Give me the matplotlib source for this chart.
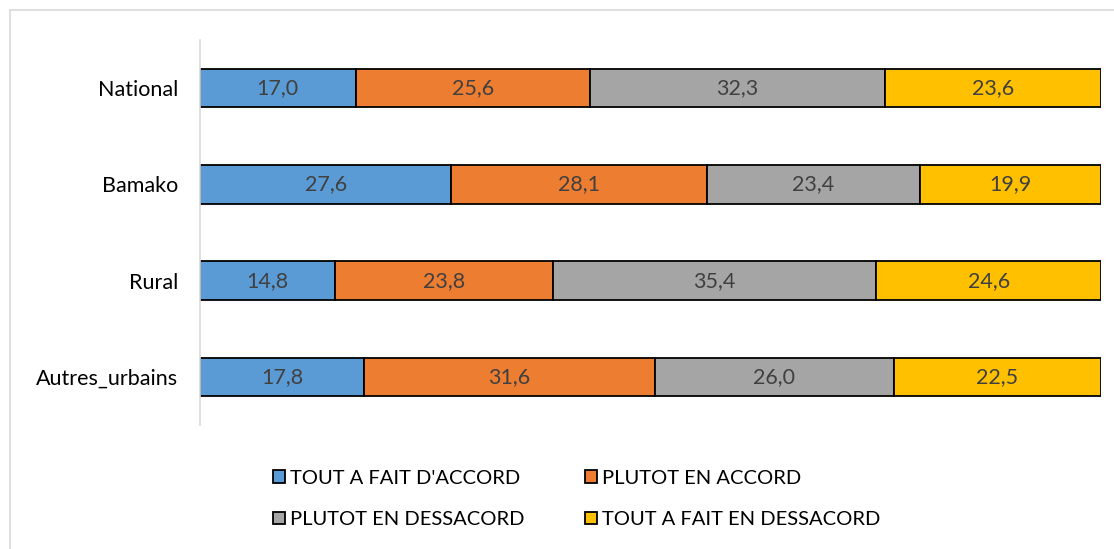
import numpy as np
import matplotlib.pyplot as plt
from matplotlib.patches import Rectangle

# ---- donnees ----
regions = ["National", "Bamako", "Rural", "Autres_urbains"]
series = ["TOUT A FAIT D'ACCORD", "PLUTOT EN ACCORD",
          "PLUTOT EN DESSACORD", "TOUT A FAIT EN DESSACORD"]
tout_accord = [17.0, 27.6, 14.8, 17.8]
plutot_accord = [25.6, 28.1, 23.8, 31.6]
plutot_desaccord = [32.3, 23.4, 35.4, 26.0]
tout_desaccord = [23.6, 19.9, 24.6, 22.5]
colors = ["#5B9BD5", "#ED7D31", "#A5A5A5", "#FFC000"]

plt.rcParams['font.family'] = ['Lato', 'DejaVu Sans']

vals = np.array([tout_accord, plutot_accord, plutot_desaccord, tout_desaccord])
pct = vals / vals.sum(axis=0) * 100   # barres empilees a 100%

W, H = 1114, 549
fig = plt.figure(figsize=(W/100, H/100), dpi=100)
# cadre gris du graphique
fig.patches.append(Rectangle((10/W, -0.1), 1.2, 1 - 10/H + 0.1, transform=fig.transFigure,
                             fill=False, edgecolor="#D9D9D9", linewidth=1.2))

ax = fig.add_axes([200/W, 1 - 425/H, 901/W, 385/H])
y = np.arange(len(regions))
left = np.zeros(len(regions))
handles = []
for i in range(4):
    bars = ax.barh(y, pct[i], left=left, height=0.4, color=colors[i],
                   edgecolor="black", linewidth=1.3, label=series[i])
    handles.append(bars)
    for j in range(len(regions)):
        ax.text(left[j] + pct[i][j]/2, y[j], f"{vals[i][j]:.1f}".replace(".", ","),
                ha="center", va="center", fontsize=15.5, color="#404040")
    left += pct[i]

ax.set_xlim(0, 100)
ax.set_ylim(3.5, -0.5)
ax.set_yticks(y)
ax.set_yticklabels(regions, fontsize=15.5)
ax.tick_params(axis="y", length=0, pad=16)
ax.set_xticks([])
for s in ["top", "right", "bottom"]:
    ax.spines[s].set_visible(False)
ax.spines["left"].set_color("#D9D9D9")
ax.spines["left"].set_linewidth(1.2)

# ordre ligne par ligne comme dans l'original
order = [0, 2, 1, 3]
leg = fig.legend([handles[k] for k in order], [series[k] for k in order],
                 loc="center", bbox_to_anchor=(0.518, 1 - 499/H), ncol=2,
                 frameon=False, fontsize=14.5, handlelength=0.6, handleheight=0.6,
                 handletextpad=0.25, columnspacing=3.0, labelspacing=1.2)

fig.savefig("out.png", dpi=100)
